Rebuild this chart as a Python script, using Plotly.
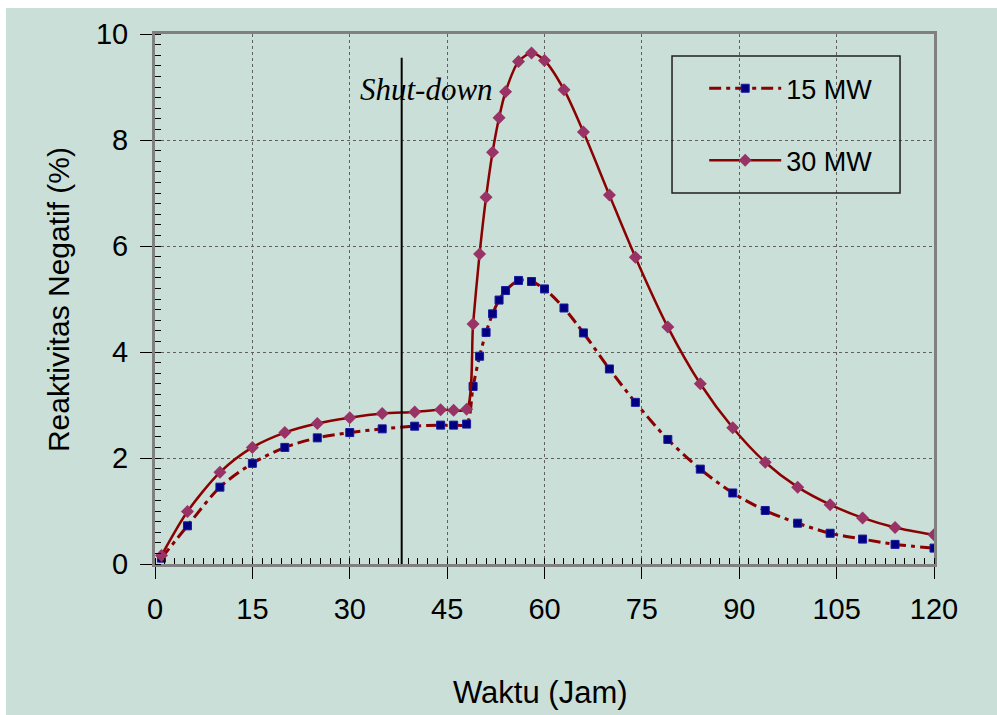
import plotly.graph_objects as go

# Data
time_h = [1, 5, 10, 15, 20, 25, 30, 35, 40, 44, 46, 48, 49, 50, 51, 52, 53, 54,
          56, 58, 60, 63, 66, 70, 74, 79, 84, 89, 94, 99, 104, 109, 114, 120]
mw15 = [0.11, 0.72, 1.45, 1.90, 2.20, 2.38, 2.48, 2.55, 2.60, 2.62, 2.62, 2.64,
        3.35, 3.92, 4.37, 4.72, 4.98, 5.16, 5.35, 5.33, 5.19, 4.83, 4.36, 3.68,
        3.05, 2.35, 1.79, 1.34, 1.01, 0.77, 0.58, 0.47, 0.37, 0.30]
mw30 = [0.16, 0.99, 1.73, 2.20, 2.48, 2.65, 2.76, 2.84, 2.87, 2.91, 2.90, 2.92,
        4.53, 5.85, 6.92, 7.77, 8.42, 8.91, 9.48, 9.64, 9.50, 8.95, 8.15, 6.96,
        5.79, 4.47, 3.40, 2.57, 1.92, 1.45, 1.12, 0.87, 0.69, 0.55]
series_names = ["15 MW", "30 MW"]
shutdown_time = 38
shutdown_label = "<i>Shut-down</i>"
x_ticks = [0, 15, 30, 45, 60, 75, 90, 105, 120]
y_ticks = [0, 2, 4, 6, 8, 10]

BG = "#C9DFD7"
LINE = "#8B0000"

fig = go.Figure()
fig.add_trace(go.Scatter(
    x=time_h, y=mw15, name=series_names[0], mode="lines+markers",
    line=dict(color=LINE, width=3, dash="12px,5px,4px,5px", shape="spline", smoothing=0.8),
    marker=dict(symbol="square", size=8, color="#000080", line=dict(color="#1a1aa0", width=1)),
    legendgroup="a",
))
fig.add_trace(go.Scatter(
    x=time_h, y=mw30, name=series_names[1], mode="lines+markers",
    line=dict(color=LINE, width=2.5, shape="spline", smoothing=0.8),
    marker=dict(symbol="diamond", size=10, color="#993366"),
    legendgroup="b",
))

font_main = "Liberation Sans, Arial, sans-serif"

fig.update_layout(
    width=997, height=715,
    margin=dict(l=155, r=63, t=34, b=151),
    paper_bgcolor=BG, plot_bgcolor=BG,
    font=dict(family=font_main, color="black", size=29),
    showlegend=True,
    legend=dict(x=0.705, y=0.943, xanchor="left", yanchor="top",
                bgcolor="rgba(0,0,0,0)", borderwidth=0,
                font=dict(size=27, family=font_main),
                traceorder="grouped", tracegroupgap=34, itemwidth=72),
    xaxis=dict(range=[0, 120], tickvals=x_ticks, ticks="outside", ticklen=12,
               tickcolor="black", tickwidth=1, showline=True, linecolor="#808080",
               linewidth=3, mirror=True, showgrid=True, gridcolor="#606060",
               griddash="dot", gridwidth=1, zeroline=False, ticklabelstandoff=5,
               minor=dict(dtick=1.5, tick0=0, ticks="inside", ticklen=6,
                          tickcolor="black", showgrid=False)),
    yaxis=dict(range=[0, 10], tickvals=y_ticks, ticks="outside", ticklen=12,
               tickcolor="black", tickwidth=1, showline=True, linecolor="#808080",
               linewidth=3, mirror=True, showgrid=True, gridcolor="#606060",
               griddash="dot", gridwidth=1, zeroline=False, ticklabelstandoff=6,
               minor=dict(dtick=0.2, tick0=0, ticks="inside", ticklen=6,
                          tickcolor="black", showgrid=False)),
)

# Shut-down marker line and label
fig.add_shape(type="line", x0=shutdown_time, x1=shutdown_time, y0=0, y1=9.55,
              xref="x", yref="y", line=dict(color="black", width=2))
fig.add_annotation(x=52.4, y=8.95, xref="x", yref="y", text=shutdown_label,
                   showarrow=False, xanchor="right", yanchor="middle",
                   font=dict(family="Liberation Serif, Times New Roman, serif",
                             size=31, color="black"))

# Legend box
fig.add_shape(type="rect", xref="paper", yref="paper",
              x0=0.6637, x1=0.9564, y0=0.70, y1=0.9585,
              line=dict(color="#202020", width=1.5), fillcolor="rgba(0,0,0,0)")

# Axis titles
fig.add_annotation(x=0.4955, y=-0.243, xref="paper", yref="paper", text="Waktu (Jam)",
                   showarrow=False, xanchor="center", yanchor="middle",
                   font=dict(size=31, family=font_main))
fig.add_annotation(x=-0.1245, y=0.498, xref="paper", yref="paper",
                   text="Reaktivitas Negatif (%)", textangle=-90,
                   showarrow=False, xanchor="center", yanchor="middle",
                   font=dict(size=30, family=font_main))

# White page edges (top and left)
fig.add_shape(type="rect", xref="paper", yref="paper", x0=-0.25, x1=1.2,
              y0=(564 - 8) / 530, y1=1.2, line=dict(width=0), fillcolor="white", layer="below")
fig.add_shape(type="rect", xref="paper", yref="paper", x0=-0.25, x1=(6 - 155) / 779,
              y0=-0.4, y1=1.2, line=dict(width=0), fillcolor="white", layer="below")

fig.write_html("out.html")
